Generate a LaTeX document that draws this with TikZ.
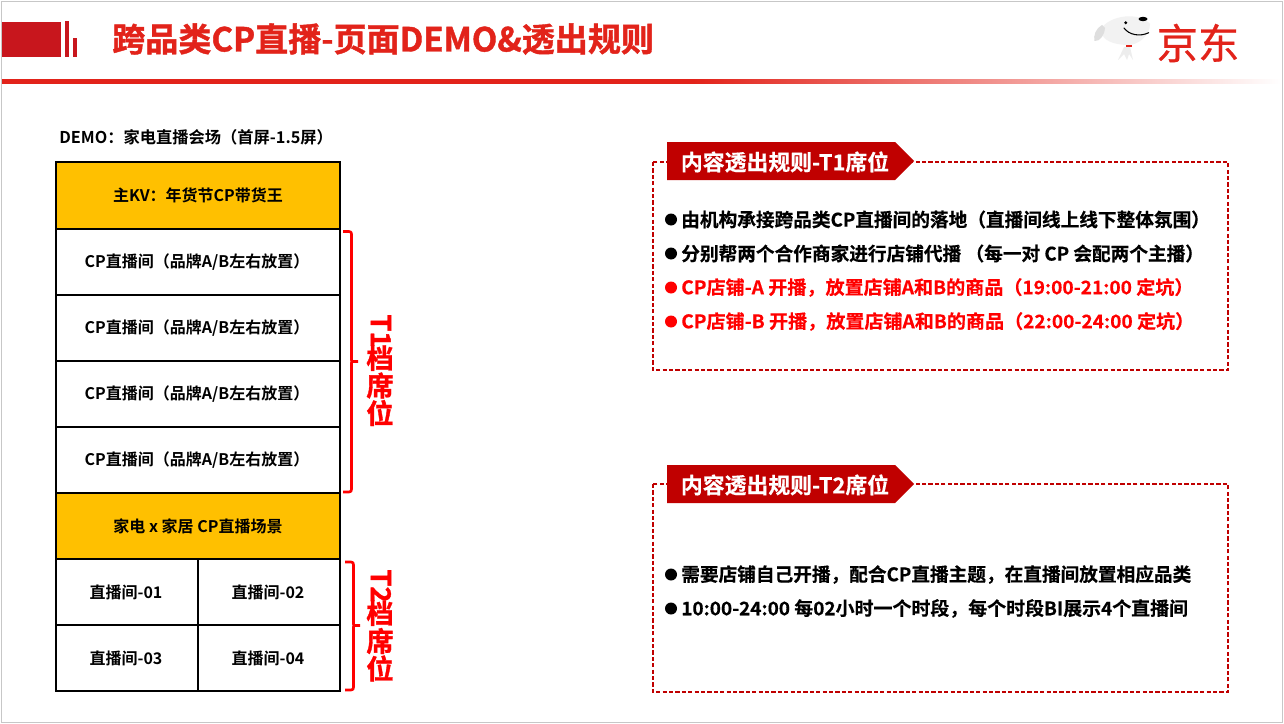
\documentclass[tikz,border=0pt]{standalone}
\usepackage{fontspec}
\usepackage{graphicx}
\setmainfont{Noto Sans CJK SC}[BoldFont={* Bold}]
\newfontfamily\cjkb{Noto Sans CJK SC Bold}
\newfontfamily\cjkh[FakeBold=1.2]{Noto Sans CJK SC Bold}
\newfontfamily\cjkm[FakeBold=0.4]{Noto Sans CJK SC Bold}
\newfontfamily\cjkr[FakeBold=0.6]{Noto Sans CJK SC}
\usetikzlibrary{shapes.geometric}
\definecolor{hdr}{HTML}{C8161D}
\definecolor{ttl}{HTML}{E2231A}
\definecolor{kv}{HTML}{FFC000}
\definecolor{dk}{HTML}{C00000}
\definecolor{rd}{HTML}{FF0000}
\pgfdeclarehorizontalshading{hline}{100bp}{
 color(0bp)=(ttl); color(25bp)=(ttl); color(52bp)=(ttl); color(66bp)=(ttl!40!white); color(75bp)=(white); color(100bp)=(white)}
\tikzset{
 x=0.75pt,y=-0.75pt,
 cell/.style={font=\cjkb\fontsize{12}{14}\selectfont,text=black,anchor=center,inner sep=0pt},
 tcell/.style={draw=black,line width=0.85pt},
 kvcell/.style={tcell,fill=kv},
 rule/.style={font=\cjkm\fontsize{14}{16}\selectfont,anchor=west,inner sep=0pt},
 bul/.style={circle,fill=black,inner sep=0pt,minimum size=9pt},
 brace/.style={draw=rd,line width=2pt,line join=round},
 side/.style={font=\cjkh\fontsize{20.5}{22}\selectfont,text=rd,inner sep=0pt,anchor=center},
 dbox/.style={draw=dk,line width=1pt,dash pattern=on 3.2pt off 1.6pt},
 tag/.style={fill=dk},
 tagt/.style={font=\cjkm\fontsize{16.4}{18}\selectfont,text=white,inner sep=0pt},
}
\begin{document}
\begin{tikzpicture}
\useasboundingbox (0,0) rectangle (1284,724);
\fill[white] (0,0) rectangle (1284,724);
\draw[draw=black!22,line width=0.9pt] (1.5,1.5) rectangle (1282.5,722.5);
% header
\fill[hdr] (2,22) rectangle (61,57);
\fill[hdr] (65,21) rectangle (69,57);
\fill[hdr] (73,38) rectangle (77,57);
\shade[shading=hline] (2,80) rectangle (1281,84);
\node[font=\cjkh\fontsize{24.8}{30}\selectfont,text=ttl,anchor=west,inner sep=0pt] (title) at (112,39) {跨品类CP直播-页面DEMO\&透出规则};
% logo
\fill[black!5] (1100,30) .. controls (1110,14) and (1140,12) .. (1150,24) .. controls (1150,36) and (1138,45) .. (1128,45) .. controls (1118,45) and (1106,42) .. (1103,36) -- cycle;
\fill[black!13] (1102,25) .. controls (1096,28) and (1093,36) .. (1094.5,41) .. controls (1100,42) and (1105,34) .. (1105,28) -- cycle;
\fill[black!7] (1124,47) -- (1130,47) -- (1133,60) -- (1129,54) -- (1127,60) -- (1124,54) -- (1118,60) -- cycle;
\fill[ttl] (1126,45) rectangle (1132,47);
\fill[black] (1143,19) ellipse [x radius=4.5,y radius=2.2];
\fill[black] (1125.7,22.7) circle (1.6);
\draw[black,line width=0.8pt,line cap=round] (1124,28) .. controls (1129,35) and (1140,37) .. (1148.7,32.7);
\node[font=\cjkr\fontsize{31}{34}\selectfont,text=ttl,anchor=center,inner sep=0pt] (jd) at (1198,43) {京东};
% table caption
\node[font=\cjkb\fontsize{12.2}{14}\selectfont,anchor=west,inner sep=0pt] (cap) at (59,137) {DEMO：家电直播会场（首屏-1.5屏）};
% table
\draw[kvcell] (56,162) rectangle (340,229);
\node[cell] (r1) at (198,195) {主KV：年货节CP带货王};
\draw[tcell] (56,229) rectangle (340,295);
\node[cell] (r2) at (197,262) {CP直播间（品牌A/B左右放置）};
\draw[tcell] (56,295) rectangle (340,361);
\node[cell] (r3) at (197,328) {CP直播间（品牌A/B左右放置）};
\draw[tcell] (56,361) rectangle (340,427);
\node[cell] (r4) at (197,394) {CP直播间（品牌A/B左右放置）};
\draw[tcell] (56,427) rectangle (340,493);
\node[cell] (r5) at (197,460) {CP直播间（品牌A/B左右放置）};
\draw[kvcell] (56,493) rectangle (340,559);
\node[cell] (r6) at (198,526) {家电 x 家居 CP直播场景};
\draw[tcell] (56,559) rectangle (198,625);
\node[cell] (c1) at (126,592) {直播间-01};
\draw[tcell] (198,559) rectangle (340,625);
\node[cell] (c2) at (268,592) {直播间-02};
\draw[tcell] (56,625) rectangle (198,691);
\node[cell] (c3) at (126,658) {直播间-03};
\draw[tcell] (198,625) rectangle (340,691);
\node[cell] (c4) at (268,658) {直播间-04};
% braces
\draw[brace] (343,231.5) -- (349,231.5) .. controls (351,231.5) and (351.5,232.5) .. (351.5,234) -- (351.5,360) .. controls (351.5,361.5) .. (353,361.5) -- (358,361.5) (353,361.5) .. controls (351.5,361.5) .. (351.5,363) -- (351.5,489) .. controls (351.5,491) and (351,492) .. (349,492) -- (343,492);
\draw[brace] (345,562) -- (351,562) .. controls (353,562) and (353.5,563) .. (353.5,565) -- (353.5,624) .. controls (353.5,625.5) .. (355,625.5) -- (360,625.5) (355,625.5) .. controls (353.5,625.5) .. (353.5,627) -- (353.5,687) .. controls (353.5,689) and (353,690) .. (351,690) -- (345,690);
\node[side,rotate=-90] (t1a) at (381,331) {T1};
\node[side] (t1b) at (380,358) {档};
\node[side] (t1c) at (380,385.5) {席};
\node[side] (t1d) at (380,413) {位};
\node[side,rotate=-90] (t2a) at (381,586) {T2};
\node[side] (t2b) at (380,613) {档};
\node[side] (t2c) at (380,641) {席};
\node[side] (t2d) at (380,668.5) {位};
% rule box T1
\draw[dbox] (653,162) rectangle (1228,370);
\fill[tag] (667,142) -- (895,142) -- (914,161) -- (895,180) -- (667,180) -- cycle;
\node[tagt] (h1) at (785,162) {内容透出规则-T1席位};
\node[bul] (p1) at (671,219.5) {};
\node[rule] (a1) at (681,219.5) {由机构承接跨品类CP直播间的落地（直播间线上线下整体氛围）};
\node[bul] (p2) at (671,253.5) {};
\node[rule] (a2) at (681,253.5) {分别帮两个合作商家进行店铺代播 （每一对 CP 会配两个主播）};
\node[bul,fill=rd] (p3) at (671,287.5) {};
\node[rule,text=rd] (a3) at (681,287.5) {\scalebox{1.022}[1]{CP店铺-A 开播，放置店铺A和B的商品（19:00-21:00 定坑）}};
\node[bul,fill=rd] (p4) at (671,321.5) {};
\node[rule,text=rd] (a4) at (681,321.5) {\scalebox{1.022}[1]{CP店铺-B 开播，放置店铺A和B的商品（22:00-24:00 定坑）}};
% rule box T2
\draw[dbox] (653,484) rectangle (1228,692);
\fill[tag] (667,465) -- (895,465) -- (914,484) -- (895,503) -- (667,503) -- cycle;
\node[tagt] (h2) at (785,485) {内容透出规则-T2席位};
\node[bul] (q1) at (671,574.5) {};
\node[rule] (b1) at (681,574.5) {需要店铺自己开播，配合CP直播主题，在直播间放置相应品类};
\node[bul] (q2) at (671,608.5) {};
\node[rule] (b2) at (681,608.5) {\scalebox{1.015}[1]{10:00-24:00 每02小时一个时段，每个时段BI展示4个直播间}};
\end{tikzpicture}
\end{document}
